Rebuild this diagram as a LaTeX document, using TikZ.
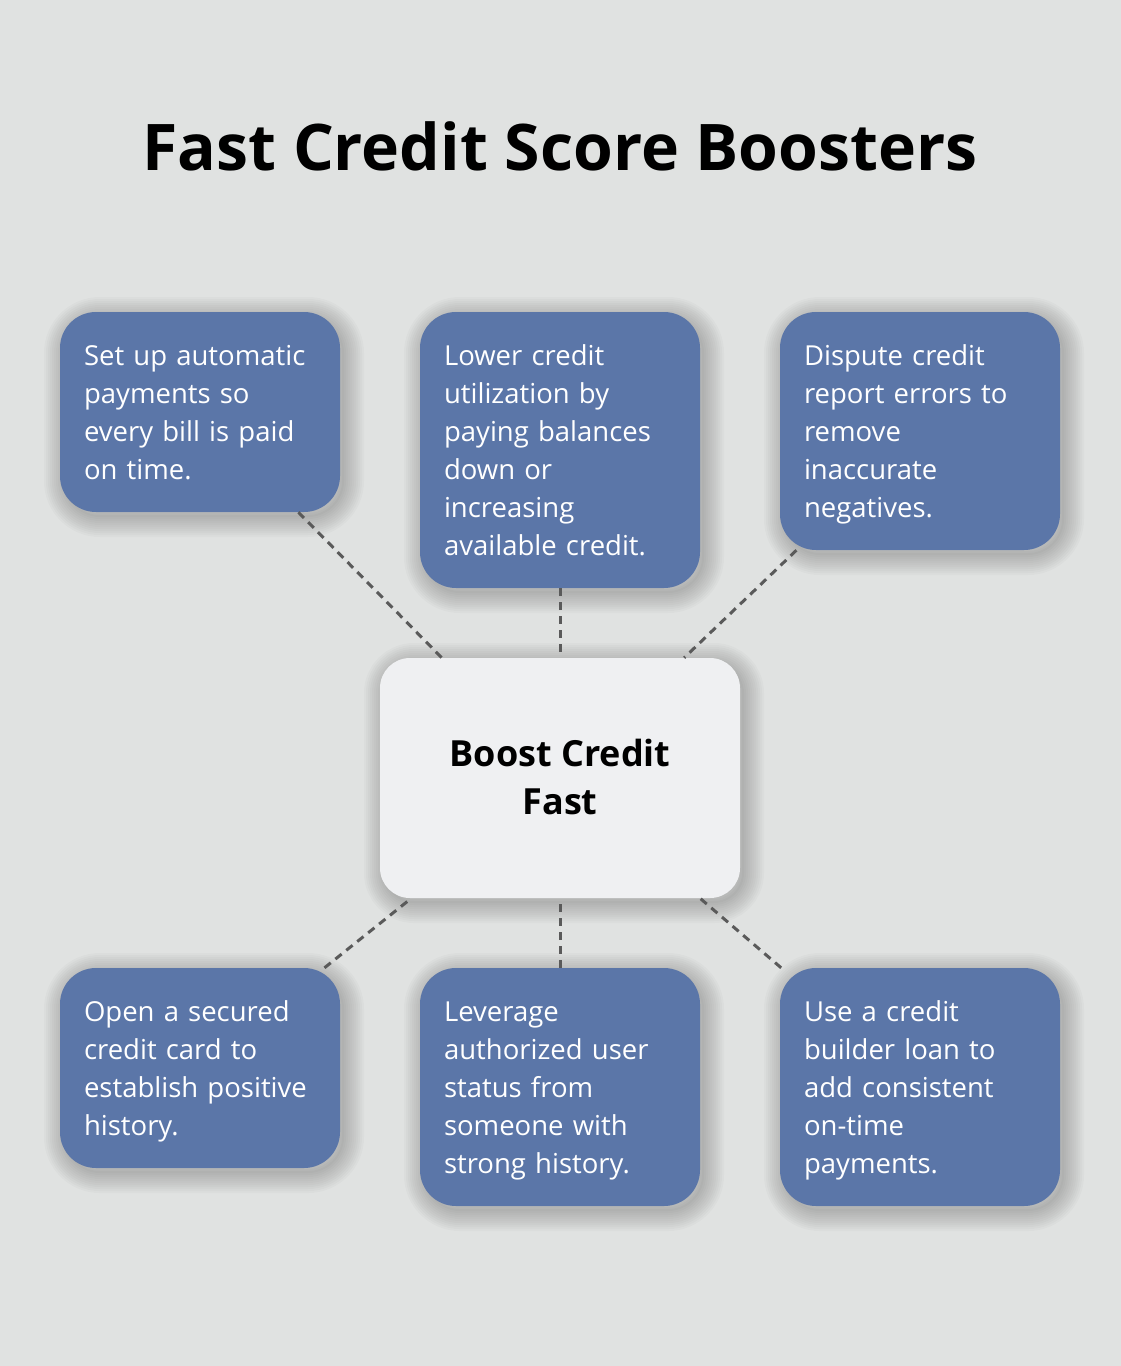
\documentclass[tikz,border=0pt]{standalone}
\usepackage{fontspec}
\setmainfont{Open Sans}
\definecolor{bgc}{HTML}{E0E2E1}
\definecolor{boxblue}{HTML}{5B76A8}
\definecolor{cbox}{HTML}{EFF0F2}
\definecolor{linec}{HTML}{5A5A5A}
\newcommand{\fs}{\rule[-8.3pt]{0pt}{38pt}}
\newcommand{\cs}{\rule[-12pt]{0pt}{48pt}}
\begin{document}
\begin{tikzpicture}[x=1pt,y=-1pt,
  shring/.style={preaction={draw=black, line width=#1, draw opacity=0.018,
    transform canvas={xshift=4pt, yshift=-5pt}}},
  softshadow/.style={
    preaction={fill=black, fill opacity=0.02, transform canvas={xshift=4pt, yshift=-5pt}},
    shring=4pt, shring=8pt, shring=12pt, shring=16pt, shring=20pt,
    shring=24pt, shring=28pt, shring=32pt, shring=36pt, shring=40pt},
  bluebox/.style={softshadow, fill=boxblue, rounded corners=36pt, minimum width=280pt,
    text width=232pt, inner xsep=24pt, inner ysep=0pt, align=left,
    anchor=center, text=white, font=\fontsize{27.5}{38}\selectfont},
  centerbox/.style={softshadow, fill=cbox, rounded corners=30pt, minimum width=360pt,
    minimum height=240pt, inner sep=0pt, align=center, text=black,
    font=\fontsize{36}{48}\selectfont\bfseries},
  conn/.style={draw=linec, line width=3pt, dash pattern=on 8pt off 6pt},
  titlestyle/.style={font=\fontsize{64.3}{72}\selectfont\bfseries, text=black, anchor=base}]
\useasboundingbox (0,0) rectangle (1120,1366);
\fill[bgc] (-10,-10) rectangle (1130,1376);

\node[titlestyle] (title) at (560,170) {Fast Credit Score Boosters};

\node[bluebox, minimum height=200pt] (b1) at (200,412)
  {\fs Set up automatic\\payments so\\every bill is paid\\on time.\fs};
\node[bluebox, minimum height=276pt] (b2) at (560,450)
  {\fs Lower credit\\utilization by\\paying balances\\down or\\increasing\\available credit.\fs};
\node[bluebox, minimum height=238pt] (b3) at (920,431)
  {\fs Dispute credit\\report errors to\\remove\\inaccurate\\negatives.\fs};

\node[centerbox] (c) at (560,778) {\cs Boost Credit\\Fast\cs};

\node[bluebox, minimum height=200pt] (b4) at (200,1068)
  {\fs Open a secured\\credit card to\\establish positive\\history.\fs};
\node[bluebox, minimum height=238pt] (b5) at (560,1087)
  {\fs Leverage\\authorized user\\status from\\someone with\\strong history.\fs};
\node[bluebox, minimum height=238pt] (b6) at (920,1087)
  {\fs Use a credit\\builder loan to\\add consistent\\on-time\\payments.\fs};

\draw[conn] (b1) -- (c);
\draw[conn] (b2) -- (c);
\draw[conn] (b3) -- (c);
\draw[conn] (b4) -- (c);
\draw[conn] (b5) -- (c);
\draw[conn] (b6) -- (c);
\end{tikzpicture}
\end{document}
